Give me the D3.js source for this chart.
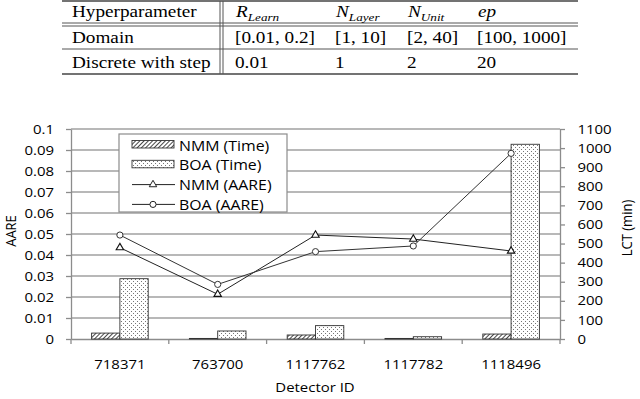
<!DOCTYPE html>
<html>
<head>
<meta charset="utf-8">
<script src="https://cdn.jsdelivr.net/npm/d3@7"></script>
<style>
  body { margin: 0; background: #fff; }
  svg { display: block; }
  .tbl { font-family: "Liberation Serif", "Times New Roman", serif; font-size: 16px; fill: #000; }
  .chart text { font-family: "Open Sans", "Noto Sans", sans-serif; fill: #000; }
</style>
</head>
<body>
<svg id="fig" width="640" height="399"></svg>
<script>
// the source figure is stretched sideways, so text gets the same squeeze
var SX = 1.2;
var SXC = 1.15;

// table
var headCols = [
  {main: "R", sub: "Learn"},
  {main: "N", sub: "Layer"},
  {main: "N", sub: "Unit"},
  {main: "ep", sub: ""}
];
var rowNames = ["Domain", "Discrete with step"];
var domainRow = ["[0.01, 0.2]", "[1, 10]", "[2, 40]", "[100, 1000]"];
var stepRow = ["0.01", "1", "2", "20"];

// chart data
var categories = ["718371", "763700", "1117762", "1117782", "1118496"];
var nmmTime = [31, 3, 21, 3, 26];
var boaTime = [316, 42, 70, 12, 1020];
var nmmAare = [0.0435, 0.0213, 0.0495, 0.0476, 0.0419];
var boaAare = [0.0495, 0.026, 0.0416, 0.0443, 0.0884];
var aareTicks = [0, 0.01, 0.02, 0.03, 0.04, 0.05, 0.06, 0.07, 0.08, 0.09, 0.1];
var lctTicks = [0, 100, 200, 300, 400, 500, 600, 700, 800, 900, 1000, 1100];

var svg = d3.select("#fig");
svg.append("rect").attr("width", 640).attr("height", 399).attr("fill", "#fff");

function label(g, x, y, s, sx) {
  return g.append("text")
    .attr("transform", "translate(" + x + "," + y + ") scale(" + (sx || SX) + ",1)")
    .text(s);
}

// ---------- table ----------
var tbl = svg.append("g").attr("class", "tbl");
var tx0 = 62, tx1 = 578;
var colX = [236, 336, 408, 478];

tbl.append("line").attr("x1", tx0).attr("x2", tx1).attr("y1", 1).attr("y2", 1)
  .attr("stroke", "#444").attr("stroke-width", 1.5);
[23, 26, 49].forEach(function(y) {
  tbl.append("line").attr("x1", tx0).attr("x2", tx1).attr("y1", y).attr("y2", y)
    .attr("stroke", "#555").attr("stroke-width", 1);
});
tbl.append("line").attr("x1", tx0).attr("x2", tx1).attr("y1", 74).attr("y2", 74)
  .attr("stroke", "#444").attr("stroke-width", 1.5);
[220, 223].forEach(function(x) {
  tbl.append("line").attr("x1", x).attr("x2", x).attr("y1", 1).attr("y2", 74)
    .attr("stroke", "#555").attr("stroke-width", 1);
});

label(tbl, 72, 17, "Hyperparameter");
headCols.forEach(function(h, i) {
  var t = label(tbl, colX[i], 17, "");
  t.append("tspan").attr("font-style", "italic").text(h.main);
  if (h.sub) t.append("tspan").attr("font-style", "italic").attr("font-size", 11)
    .attr("dy", 4).text(h.sub);
});
label(tbl, 72, 43, rowNames[0]);
label(tbl, 72, 68, rowNames[1]);
domainRow.forEach(function(s, i) { label(tbl, colX[i] - 1, 43, s); });
stepRow.forEach(function(s, i) { label(tbl, colX[i] - 1, 68, s); });

// ---------- chart ----------
var g = svg.append("g").attr("class", "chart");
var pLeft = 71, pRight = 560, pTop = 129, pBottom = 339;

var defs = svg.append("defs");
var hatch = defs.append("pattern").attr("id", "hatch")
  .attr("patternUnits", "userSpaceOnUse").attr("width", 3).attr("height", 3)
  .attr("patternTransform", "rotate(45)");
hatch.append("rect").attr("width", 3).attr("height", 3).attr("fill", "#fff");
hatch.append("line").attr("x1", 0.5).attr("x2", 0.5).attr("y1", 0).attr("y2", 3)
  .attr("stroke", "#333").attr("stroke-width", 0.9);
var dots = defs.append("pattern").attr("id", "dots")
  .attr("patternUnits", "userSpaceOnUse").attr("width", 4).attr("height", 4);
dots.append("rect").attr("width", 4).attr("height", 4).attr("fill", "#fff");
dots.append("rect").attr("x", 1).attr("y", 1).attr("width", 0.9).attr("height", 0.9).attr("fill", "#555");
dots.append("rect").attr("x", 3).attr("y", 3).attr("width", 0.9).attr("height", 0.9).attr("fill", "#555");

var x = d3.scaleBand().domain(categories).range([pLeft, pRight]);
var xi = d3.scaleBand().domain(["nmm", "boa"]).range([0, 56.6]);
var yL = d3.scaleLinear().domain([0, 0.1]).range([pBottom, pTop]);
var yR = d3.scaleLinear().domain([0, 1100]).range([pBottom, pTop]);

// gridlines
g.append("g").selectAll("line").data(aareTicks.slice(1)).enter().append("line")
  .attr("x1", pLeft).attr("x2", pRight)
  .attr("y1", function(d) { return yL(d); }).attr("y2", function(d) { return yL(d); })
  .attr("stroke", "#a0a0a0").attr("stroke-width", 1.3);

// left axis
var axL = g.append("g").attr("transform", "translate(" + pLeft + ",0)")
  .call(d3.axisLeft(yL).tickValues(aareTicks).tickFormat(function(d) { return String(d); })
    .tickSize(5).tickSizeOuter(0).tickPadding(12));
axL.selectAll("path, line").attr("stroke", "#8c8c8c").attr("stroke-width", 1.3);
axL.selectAll("text").attr("font-size", 13).attr("font-family", null)
  .attr("x", -17 / SXC).attr("transform", "scale(" + SXC + ",1)");

// right axis
var axR = g.append("g").attr("transform", "translate(" + pRight + ",0)")
  .call(d3.axisRight(yR).tickValues(lctTicks).tickFormat(function(d) { return String(d); })
    .tickSize(5).tickSizeOuter(0).tickPadding(12));
axR.selectAll("path, line").attr("stroke", "#8c8c8c").attr("stroke-width", 1.3);
axR.selectAll("text").attr("font-size", 13).attr("font-family", null)
  .attr("x", 17.5 / SXC).attr("transform", "scale(" + SXC + ",1)");

// bottom axis
var axB = g.append("g").attr("transform", "translate(0," + pBottom + ")")
  .call(d3.axisBottom(x).tickSize(0).tickSizeOuter(0).tickPadding(21));
axB.selectAll("path").attr("stroke", "#8c8c8c").attr("stroke-width", 1.3);
axB.selectAll("text").attr("font-size", 13).attr("font-family", null)
  .attr("transform", "scale(" + SXC + ",1)")
  .attr("x", 0);
var bounds = categories.map(function(c) { return x(c); }).concat([pRight]);
axB.selectAll("line.bound").data(bounds).enter().append("line").attr("class", "bound")
  .attr("x1", function(d) { return d; }).attr("x2", function(d) { return d; })
  .attr("y1", 0).attr("y2", 5).attr("stroke", "#8c8c8c").attr("stroke-width", 1.3);

// bars
var barG = g.append("g");
function groupLeft(c) { return x(c) + (x.bandwidth() - 56.6) / 2; }
barG.selectAll("rect.nmm").data(nmmTime).enter().append("rect").attr("class", "nmm")
  .attr("x", function(d, i) { return groupLeft(categories[i]) + xi("nmm"); })
  .attr("width", xi.bandwidth())
  .attr("y", function(d) { return yR(d); })
  .attr("height", function(d) { return pBottom - yR(d); })
  .attr("fill", "url(#hatch)").attr("stroke", "#333").attr("stroke-width", 0.9);
barG.selectAll("rect.boa").data(boaTime).enter().append("rect").attr("class", "boa")
  .attr("x", function(d, i) { return groupLeft(categories[i]) + xi("boa"); })
  .attr("width", xi.bandwidth())
  .attr("y", function(d) { return yR(d); })
  .attr("height", function(d) { return pBottom - yR(d); })
  .attr("fill", "url(#dots)").attr("stroke", "#333").attr("stroke-width", 0.9);

// lines
var cx = function(d, i) { return x(categories[i]) + x.bandwidth() / 2; };
var line = d3.line().x(cx).y(function(d) { return yL(d); });
g.append("path").datum(nmmAare).attr("d", line)
  .attr("fill", "none").attr("stroke", "#222").attr("stroke-width", 1);
g.append("path").datum(boaAare).attr("d", line)
  .attr("fill", "none").attr("stroke", "#333").attr("stroke-width", 1);

var tri = d3.symbol().type(d3.symbolTriangle).size(24);
var circ = d3.symbol().type(d3.symbolCircle).size(30);
g.selectAll("path.tri").data(nmmAare).enter().append("path").attr("class", "tri")
  .attr("d", tri)
  .attr("transform", function(d, i) { return "translate(" + cx(d, i) + "," + yL(d) + ")"; })
  .attr("fill", "#fff").attr("stroke", "#111").attr("stroke-width", 1.1);
g.selectAll("path.circ").data(boaAare).enter().append("path").attr("class", "circ")
  .attr("d", circ)
  .attr("transform", function(d, i) { return "translate(" + cx(d, i) + "," + yL(d) + ")"; })
  .attr("fill", "#fff").attr("stroke", "#333").attr("stroke-width", 1);

// axis titles
label(g, 0, 0, "AARE").attr("font-size", 13).attr("text-anchor", "middle")
  .attr("transform", "translate(15.5,231) scale(" + SXC + ",1) rotate(-90)");
label(g, 0, 0, "LCT (min)").attr("font-size", 13).attr("text-anchor", "middle")
  .attr("transform", "translate(632,228) scale(" + SXC + ",1) rotate(-90)");
label(g, 315, 392, "Detector ID", SXC).attr("font-size", 13).attr("text-anchor", "middle");

// legend
var lg = g.append("g");
lg.append("rect").attr("x", 119).attr("y", 134).attr("width", 168).attr("height", 78)
  .attr("fill", "#fff").attr("stroke", "#8c8c8c").attr("stroke-width", 1.2);
var legendItems = ["NMM (Time)", "BOA (Time)", "NMM (AARE)", "BOA (AARE)"];
legendItems.forEach(function(s, i) {
  var by = 150.5 + i * 19.8;
  if (i < 2) {
    lg.append("rect").attr("x", 132).attr("y", by - 10).attr("width", 42).attr("height", 7.5)
      .attr("fill", i === 0 ? "url(#hatch)" : "url(#dots)").attr("stroke", "#333").attr("stroke-width", 0.9);
  } else {
    lg.append("line").attr("x1", 132).attr("x2", 175).attr("y1", by - 5.5).attr("y2", by - 5.5)
      .attr("stroke", "#222").attr("stroke-width", 1);
    lg.append("path").attr("d", i === 2 ? tri() : circ())
      .attr("transform", "translate(153," + (by - 5.5) + ")")
      .attr("fill", "#fff").attr("stroke", "#222").attr("stroke-width", 1);
  }
  label(lg, 179, by, s, SXC).attr("font-size", 13.8);
});
</script>
</body>
</html>
